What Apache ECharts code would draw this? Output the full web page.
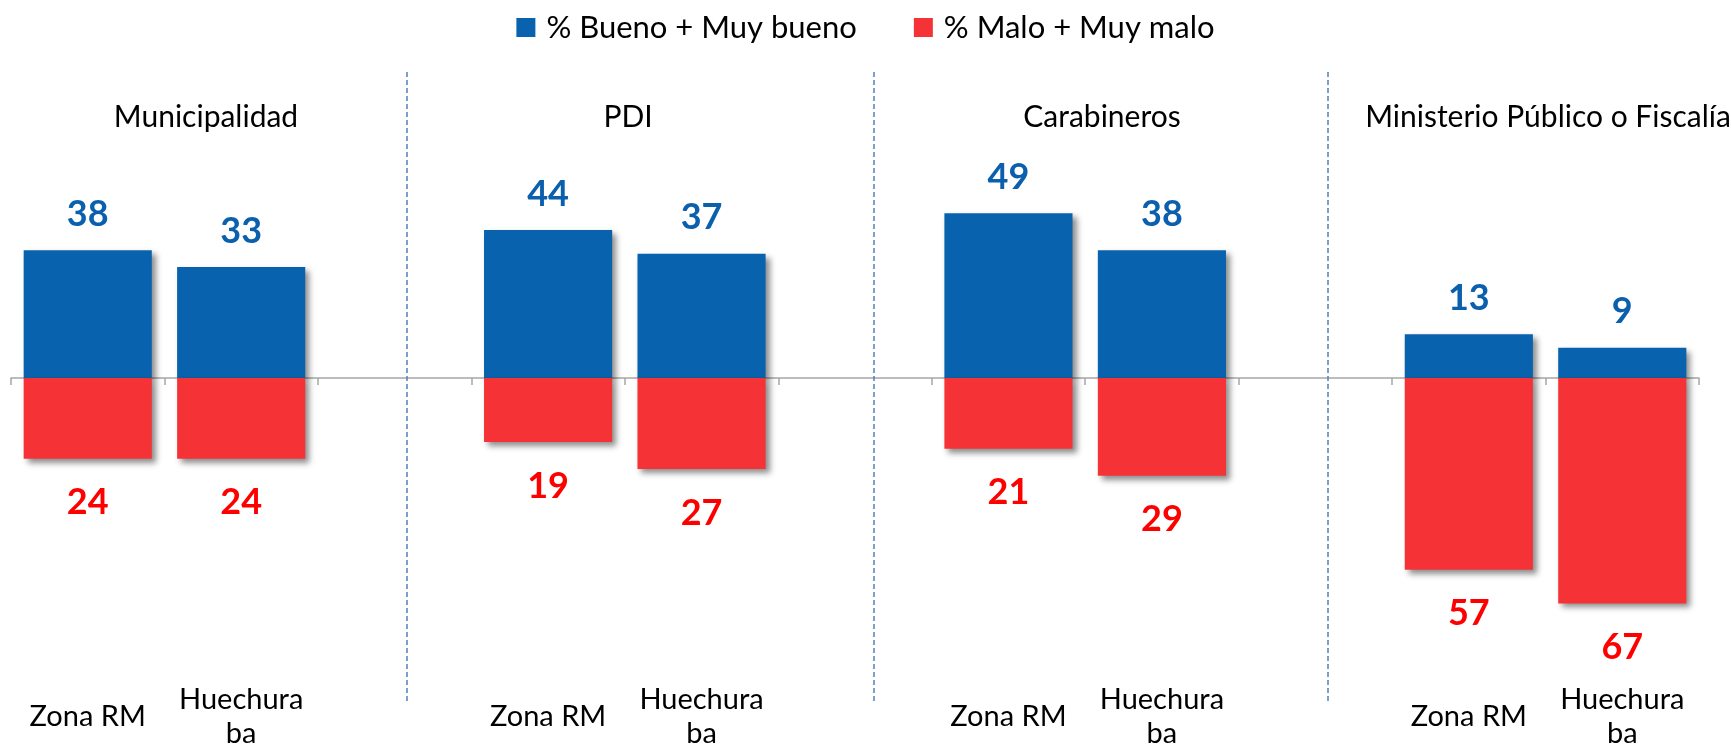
<!DOCTYPE html>
<html>
<head>
<meta charset="utf-8">
<script src="https://cdn.jsdelivr.net/npm/echarts@6/dist/echarts.min.js"></script>
</head>
<body style="margin:0;background:#fff">
<div id="main" style="width:1731px;height:751px;"></div>
<script type="text/javascript">
// datos por institucion: Zona RM / Huechuraba, con un hueco entre paneles
var categorias = ['Zona RM', 'Huechuraba', '', 'Zona RM', 'Huechuraba', '', 'Zona RM', 'Huechuraba', '', 'Zona RM', 'Huechuraba'];
var bueno = [38, 33, null, 44, 37, null, 49, 38, null, 13, 9];
var malo = [24, 24, null, 19, 27, null, 21, 29, null, 57, 67];
var instituciones = ['Municipalidad', 'PDI', 'Carabineros', 'Ministerio Público o Fiscalía'];
var series_nombres = ['% Bueno + Muy bueno', '% Malo + Muy malo'];

var fuente = 'Lato, "Open Sans", sans-serif';
var azul = '#0862ad', rojo = '#f53336';
var titulosX = [206, 628, 1102, 1548];
var separadores = [2.58, 5.62, 8.58];

var myChart = echarts.init(document.getElementById('main'));

var sombra = {
    shadowColor: 'rgba(0,0,0,0.45)',
    shadowBlur: 6,
    shadowOffsetX: 4,
    shadowOffsetY: 4
};

myChart.setOption({
    animation: false,
    textStyle: {fontFamily: fuente},
    title: instituciones.map(function (t, i) {
        return {
            text: t,
            left: titulosX[i],
            top: 102,
            padding: 0,
            textAlign: 'center',
            textStyle: {fontFamily: fuente, fontSize: 30, fontWeight: 'normal', color: '#000'}
        };
    }),
    legend: {
        data: series_nombres,
        left: 'center',
        top: 7,
        itemWidth: 19,
        itemHeight: 19,
        itemGap: 57,
        icon: 'rect',
        textStyle: {fontFamily: fuente, fontSize: 31, color: '#000', padding: [0, 0, 0, 6]}
    },
    grid: {left: 11, right: 32, top: 72, bottom: 39, containLabel: false},
    xAxis: [
        {
            type: 'category',
            data: categorias,
            position: 'bottom',
            axisLine: {onZero: true, lineStyle: {color: '#a6a6a6', width: 1.5}},
            axisTick: {show: true, length: 7, lineStyle: {color: '#a6a6a6', width: 1.5}},
            axisLabel: {show: false},
            splitLine: {show: false}
        },
        {
            type: 'category',
            data: categorias,
            position: 'bottom',
            axisLine: {show: false, onZero: false},
            axisTick: {show: false},
            axisLabel: {
                show: true,
                interval: 0,
                margin: 16,
                verticalAlign: 'middle',
                lineHeight: 34,
                fontSize: 29,
                color: '#000',
                fontFamily: fuente,
                formatter: function (v) {
                    return v === 'Huechuraba' ? 'Huechura\nba' : v;
                }
            }
        },
        {
            type: 'value',
            min: 0,
            max: 11,
            show: false
        }
    ],
    yAxis: {
        type: 'value',
        min: -96,
        max: 91,
        show: false,
        splitLine: {show: false}
    },
    series: [
        {
            name: series_nombres[0],
            type: 'bar',
            xAxisIndex: 0,
            data: bueno,
            barCategoryGap: '16.5%',
            barGap: '-100%',
            itemStyle: Object.assign({color: azul}, sombra),
            label: {
                show: true,
                position: 'top',
                distance: 18,
                fontFamily: fuente,
                fontSize: 36,
                fontWeight: 'bold',
                color: '#0b60ae'
            }
        },
        {
            name: series_nombres[1],
            type: 'bar',
            xAxisIndex: 0,
            data: malo.map(function (v) { return v == null ? null : -v; }),
            barCategoryGap: '16.5%',
            barGap: '-100%',
            itemStyle: Object.assign({color: rojo}, sombra),
            label: {
                show: true,
                position: 'bottom',
                distance: 26,
                fontFamily: fuente,
                fontSize: 36,
                fontWeight: 'bold',
                color: '#ff0000',
                formatter: function (p) { return Math.abs(p.value); }
            }
        },
        {
            name: 'separadores',
            type: 'line',
            xAxisIndex: 2,
            data: [],
            silent: true,
            markLine: {
                silent: true,
                symbol: ['none', 'none'],
                label: {show: false},
                lineStyle: {color: '#4f81bd', type: [5, 3], width: 1.5},
                data: separadores.map(function (x) { return {xAxis: x}; })
            }
        }
    ]
});
</script>
</body>
</html>
